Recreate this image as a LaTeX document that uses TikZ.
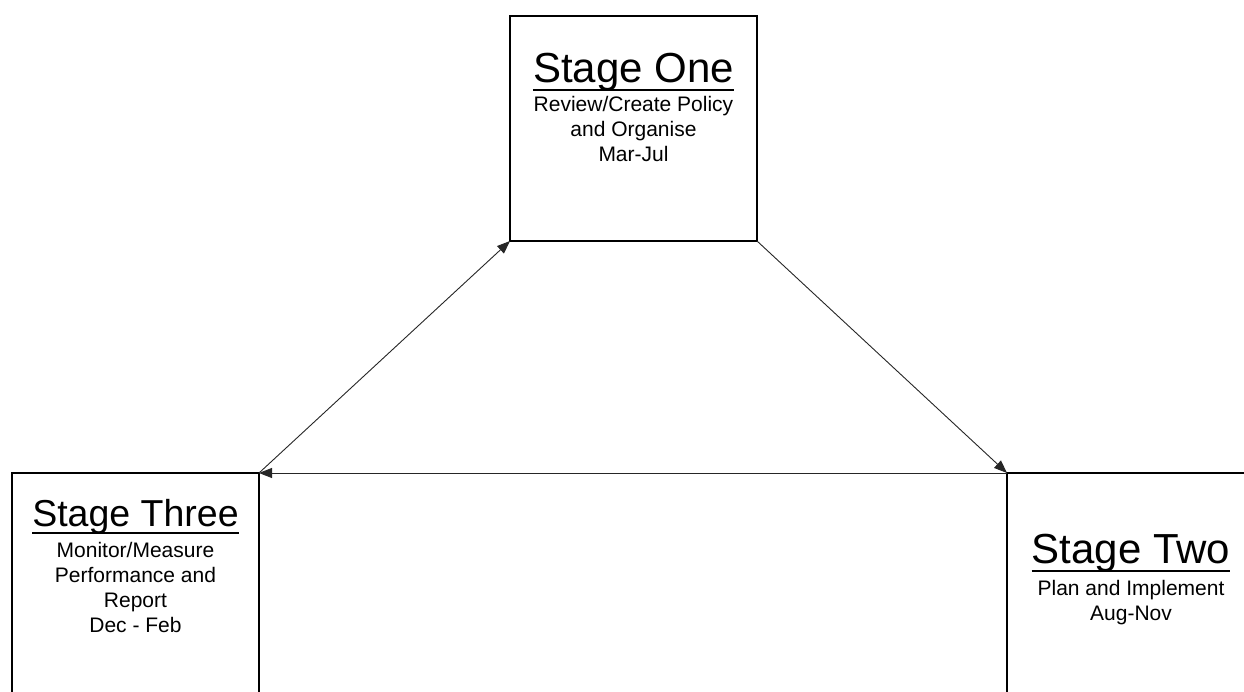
\documentclass[tikz,border=0pt]{standalone}
\usepackage{fontspec}
\setmainfont{Liberation Sans}
\usetikzlibrary{arrows.meta,calc}
\begin{document}
\begin{tikzpicture}[x=1pt,y=-1pt,
  stagebox/.style={draw=black,line width=2pt,minimum width=247pt,minimum height=225pt,inner sep=0,outer sep=0},
  stagetitle/.style={anchor=base,inner sep=0,font=\fontsize{42}{42}\selectfont},
  stagetext/.style={anchor=base,inner sep=0,align=center,font=\fontsize{21}{25}\selectfont},
  uline/.style={line width=2pt},
  conn/.style={line width=0.9pt,draw=black!85,-{Triangle[length=13pt,width=10pt]}}]
\useasboundingbox (0,0) rectangle (1244,692);
\clip (0,0) rectangle (1244,692);
\fill[white] (0,0) rectangle (1244,692);
% boxes
\node[stagebox,anchor=north west] (one) at (510,16) {};
\node[stagebox,anchor=north west] (three) at (12,473) {};
\node[stagebox,anchor=north west,minimum width=248pt] (two) at (1007,473) {};
% Stage One text (base anchor = baseline of last line)
\node[stagetitle] (t1) at (633.5,83) {Stage One};
\draw[uline] ($(t1.base west)+(0,7)$) -- ($(t1.base east)+(0,7)$);
\node[stagetext] (s1) at (633.5,162) {Review/Create Policy\\and Organise\\Mar-Jul};
% Stage Three text
\node[stagetitle,font=\fontsize{37.5}{38}\selectfont] (t3) at (135.5,526) {Stage Three};
\draw[uline] ($(t3.base west)+(0,6.5)$) -- ($(t3.base east)+(0,6.5)$);
\node[stagetext] (s3) at (135.5,632) {Monitor/Measure\\Performance and\\Report\\Dec - Feb};
% Stage Two text
\node[stagetitle] (t2) at (1131,563) {Stage Two};
\draw[uline] ($(t2.base west)+(0,8)$) -- ($(t2.base east)+(0,8)$);
\node[stagetext] (s2) at (1131,620) {Plan and Implement\\Aug-Nov};
% connectors
\draw[conn] (one.south east) -- (two.north west);
\draw[conn] (two.north west) -- (three.north east);
\draw[conn] (three.north east) -- (one.south west);
\end{tikzpicture}
\end{document}
